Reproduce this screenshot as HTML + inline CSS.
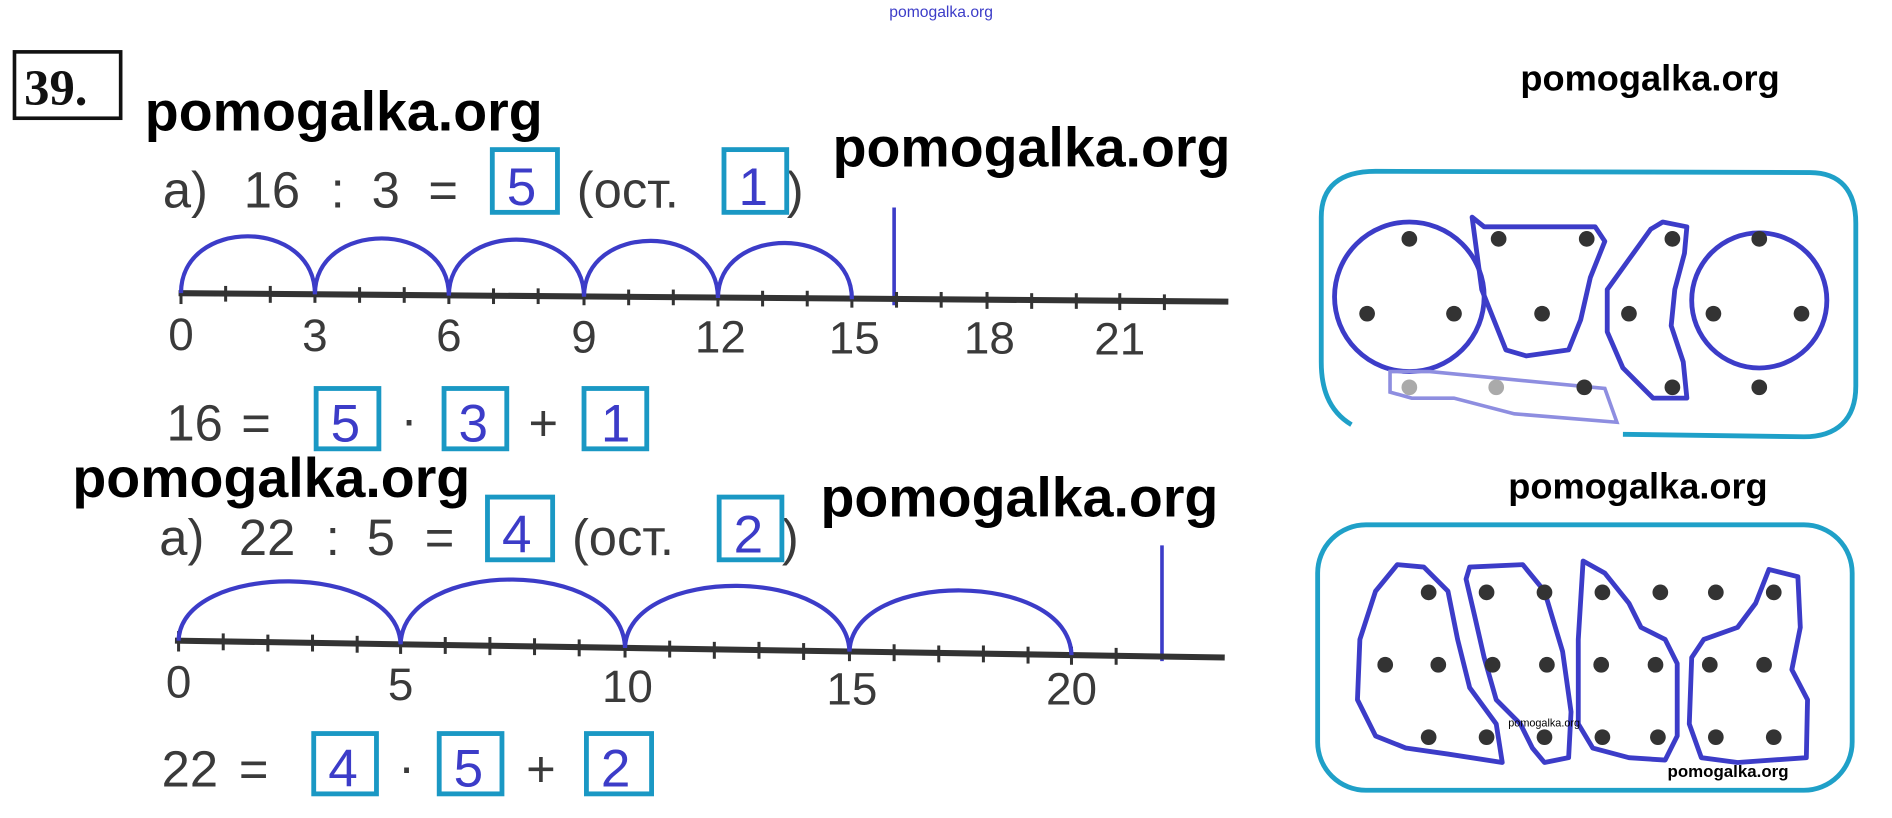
<!DOCTYPE html>
<html><head><meta charset="utf-8"><style>
html,body{margin:0;padding:0;background:#fff;width:1892px;height:818px;overflow:hidden}
svg{display:block}
.g{font-family:"Liberation Sans",sans-serif;fill:#3a3a3a}
.w{font-family:"Liberation Sans",sans-serif;font-weight:bold;fill:#000}
.b{font-family:"Liberation Sans",sans-serif;fill:#3c3cc8}
.bx{fill:none;stroke:#1a98c4;stroke-width:4}
.arc{fill:none;stroke:#3c3cc8;stroke-width:3.5}
.sh{fill:none;stroke:#3c3cc8;stroke-width:4;stroke-linejoin:round}
.d{fill:#333}
</style></head><body>
<svg width="1892" height="818" viewBox="0 0 1568 678" preserveAspectRatio="none">
<text x="737" y="14" class="b" font-size="13">pomogalka.org</text>
<rect x="12" y="43" width="88" height="55" fill="none" stroke="#111" stroke-width="3"/>
<text x="20" y="87" font-family="Liberation Serif,serif" font-weight="bold" font-size="42" fill="#111">39.</text>
<text x="120" y="108" class="w" font-size="46">pomogalka.org</text>
<text x="690" y="138" class="w" font-size="46">pomogalka.org</text>
<text x="1260" y="75" class="w" font-size="30">pomogalka.org</text>

<g class="g" font-size="42">
<text x="135" y="172">а)</text><text x="202" y="172">16</text><text x="274" y="172">:</text><text x="308" y="172">3</text><text x="355" y="172">=</text>
<text x="478" y="172">(ост.</text><text x="652" y="172">)</text>
</g>
<rect x="408" y="124" width="54" height="52" class="bx"/><text x="420" y="170" class="b" font-size="44">5</text>
<rect x="600" y="124" width="52" height="52" class="bx"/><text x="612" y="170" class="b" font-size="44">1</text>
<line x1="741" y1="172" x2="741" y2="253" stroke="#3c3cc8" stroke-width="3"/>
<line x1="148" y1="243" x2="1018" y2="250" stroke="#333" stroke-width="5"/>
<g stroke="#333" stroke-width="2.5">
<line x1="150" y1="236" x2="150" y2="252"/><line x1="187" y1="237" x2="187" y2="250"/><line x1="224" y1="237" x2="224" y2="251"/><line x1="261" y1="237" x2="261" y2="251"/><line x1="298" y1="238" x2="298" y2="251"/><line x1="335" y1="238" x2="335" y2="251"/><line x1="372" y1="238" x2="372" y2="252"/><line x1="409" y1="239" x2="409" y2="252"/><line x1="446" y1="239" x2="446" y2="252"/><line x1="484" y1="239" x2="484" y2="253"/><line x1="521" y1="240" x2="521" y2="253"/><line x1="558" y1="240" x2="558" y2="253"/><line x1="595" y1="240" x2="595" y2="254"/><line x1="632" y1="241" x2="632" y2="254"/><line x1="669" y1="241" x2="669" y2="254"/><line x1="706" y1="241" x2="706" y2="255"/><line x1="743" y1="242" x2="743" y2="255"/><line x1="780" y1="242" x2="780" y2="255"/><line x1="818" y1="242" x2="818" y2="256"/><line x1="855" y1="243" x2="855" y2="256"/><line x1="892" y1="243" x2="892" y2="256"/><line x1="928" y1="243" x2="928" y2="257"/><line x1="965" y1="244" x2="965" y2="257"/>
</g>
<path class="arc" d="M150 243 C150 180 261 180 261 244 C261 182 372 182 372 245 C372 183 484 183 484 246 C484 184 595 184 595 247 C595 186 706 186 706 248"/>
<g class="g" font-size="38" text-anchor="middle">
<text x="150" y="290">0</text><text x="261" y="291">3</text><text x="372" y="291">6</text><text x="484" y="292">9</text><text x="597" y="292">12</text><text x="708" y="293">15</text><text x="820" y="293">18</text><text x="928" y="294">21</text>
</g>
<text x="138" y="365" class="g" font-size="42">16</text><text x="200" y="365" class="g" font-size="42">=</text>
<rect x="262" y="322" width="52" height="50" class="bx"/><text x="274" y="366" class="b" font-size="44">5</text>
<text x="332" y="362" class="g" font-size="42">·</text>
<rect x="368" y="322" width="52" height="50" class="bx"/><text x="380" y="366" class="b" font-size="44">3</text>
<text x="438" y="365" class="g" font-size="42">+</text>
<rect x="484" y="322" width="52" height="50" class="bx"/><text x="498" y="366" class="b" font-size="44">1</text>

<text x="60" y="412" class="w" font-size="46">pomogalka.org</text>
<text x="680" y="428" class="w" font-size="46">pomogalka.org</text>
<text x="1250" y="413" class="w" font-size="30">pomogalka.org</text>

<g class="g" font-size="42">
<text x="132" y="460">а)</text><text x="198" y="460">22</text><text x="270" y="460">:</text><text x="304" y="460">5</text><text x="352" y="460">=</text>
<text x="474" y="460">(ост.</text><text x="648" y="460">)</text>
</g>
<rect x="404" y="412" width="54" height="52" class="bx"/><text x="416" y="458" class="b" font-size="44">4</text>
<rect x="596" y="412" width="52" height="52" class="bx"/><text x="608" y="458" class="b" font-size="44">2</text>
<line x1="963" y1="452" x2="963" y2="548" stroke="#3c3cc8" stroke-width="3"/>
<line x1="145" y1="531" x2="1015" y2="545" stroke="#333" stroke-width="5"/>
<g stroke="#333" stroke-width="2.5">
<line x1="148" y1="523" x2="148" y2="540"/><line x1="185" y1="525" x2="185" y2="539"/><line x1="222" y1="526" x2="222" y2="540"/><line x1="259" y1="526" x2="259" y2="540"/><line x1="296" y1="527" x2="296" y2="541"/><line x1="332" y1="527" x2="332" y2="542"/><line x1="369" y1="528" x2="369" y2="542"/><line x1="406" y1="528" x2="406" y2="543"/><line x1="443" y1="529" x2="443" y2="543"/><line x1="480" y1="530" x2="480" y2="544"/><line x1="518" y1="530" x2="518" y2="545"/><line x1="555" y1="531" x2="555" y2="545"/><line x1="592" y1="532" x2="592" y2="546"/><line x1="629" y1="532" x2="629" y2="546"/><line x1="666" y1="533" x2="666" y2="547"/><line x1="704" y1="533" x2="704" y2="548"/><line x1="741" y1="534" x2="741" y2="548"/><line x1="778" y1="535" x2="778" y2="549"/><line x1="815" y1="535" x2="815" y2="549"/><line x1="852" y1="536" x2="852" y2="550"/><line x1="888" y1="536" x2="888" y2="551"/><line x1="925" y1="537" x2="925" y2="551"/>
</g>
<path class="arc" d="M148 531 C150 465 330 465 332 534 C334 462 516 462 518 537 C520 468 702 468 704 540 C706 472 886 472 888 543"/>
<g class="g" font-size="38" text-anchor="middle">
<text x="148" y="578">0</text><text x="332" y="580">5</text><text x="520" y="582">10</text><text x="706" y="584">15</text><text x="888" y="584">20</text>
</g>
<text x="134" y="652" class="g" font-size="42">22</text><text x="198" y="652" class="g" font-size="42">=</text>
<rect x="260" y="608" width="52" height="50" class="bx"/><text x="272" y="652" class="b" font-size="44">4</text>
<text x="330" y="650" class="g" font-size="42">·</text>
<rect x="364" y="608" width="52" height="50" class="bx"/><text x="376" y="652" class="b" font-size="44">5</text>
<text x="436" y="652" class="g" font-size="42">+</text>
<rect x="486" y="608" width="54" height="50" class="bx"/><text x="498" y="652" class="b" font-size="44">2</text>

<path d="M1120 352 C1100 340 1095 320 1095 300 L1095 180 C1095 155 1110 142 1140 142 L1500 143 C1525 143 1538 158 1538 185 L1538 320 C1538 348 1522 362 1495 362 L1345 360" fill="none" stroke="#1fa0c8" stroke-width="4"/>
<circle cx="1168" cy="246" r="62" class="sh"/>
<circle cx="1458" cy="249" r="56" class="sh"/>
<path class="sh" d="M1220 180 L1230 188 L1322 188 L1330 200 L1318 230 L1310 265 L1300 290 L1265 295 L1248 290 L1228 240 Z"/>
<path class="sh" d="M1378 184 L1398 188 L1396 210 L1388 240 L1385 270 L1395 300 L1398 330 L1370 330 L1345 305 L1332 275 L1332 240 L1350 215 L1368 190 Z"/>
<path d="M1152 308 L1185 308 L1330 322 L1340 350 L1255 343 L1205 330 L1170 330 L1152 325 Z" fill="none" stroke="#8e8ee0" stroke-width="3"/>
<g class="d">
<circle cx="1168" cy="198" r="6.5"/><circle cx="1242" cy="198" r="6.5"/><circle cx="1315" cy="198" r="6.5"/><circle cx="1386" cy="198" r="6.5"/><circle cx="1458" cy="198" r="6.5"/>
<circle cx="1133" cy="260" r="6.5"/><circle cx="1205" cy="260" r="6.5"/><circle cx="1278" cy="260" r="6.5"/><circle cx="1350" cy="260" r="6.5"/><circle cx="1420" cy="260" r="6.5"/><circle cx="1493" cy="260" r="6.5"/>
<circle cx="1168" cy="321" r="6.5" fill="#aaa"/><circle cx="1240" cy="321" r="6.5" fill="#aaa"/><circle cx="1313" cy="321" r="6.5"/><circle cx="1386" cy="321" r="6.5"/><circle cx="1458" cy="321" r="6.5"/>
</g>
<rect x="1092" y="435" width="443" height="220" rx="40" fill="none" stroke="#1fa0c8" stroke-width="4"/>
<path class="sh" d="M1158 468 L1180 470 L1200 490 L1208 530 L1218 570 L1240 600 L1245 632 L1200 625 L1165 620 L1140 610 L1125 580 L1127 530 L1140 490 Z"/>
<path class="sh" d="M1218 470 L1262 468 L1280 490 L1295 540 L1302 590 L1300 628 L1280 632 L1270 620 L1260 600 L1240 580 L1230 545 L1222 510 L1215 480 Z"/>
<path class="sh" d="M1312 465 L1330 475 L1350 500 L1360 520 L1380 530 L1390 550 L1390 610 L1380 630 L1350 628 L1320 620 L1308 600 L1308 530 Z"/>
<path class="sh" d="M1466 472 L1490 478 L1492 520 L1485 555 L1498 580 L1497 628 L1440 632 L1410 628 L1400 600 L1402 545 L1412 530 L1440 520 L1455 500 Z"/>
<g class="d">
<circle cx="1184" cy="491" r="6.5"/><circle cx="1232" cy="491" r="6.5"/><circle cx="1280" cy="491" r="6.5"/><circle cx="1328" cy="491" r="6.5"/><circle cx="1376" cy="491" r="6.5"/><circle cx="1422" cy="491" r="6.5"/><circle cx="1470" cy="491" r="6.5"/>
<circle cx="1148" cy="551" r="6.5"/><circle cx="1192" cy="551" r="6.5"/><circle cx="1237" cy="551" r="6.5"/><circle cx="1282" cy="551" r="6.5"/><circle cx="1327" cy="551" r="6.5"/><circle cx="1372" cy="551" r="6.5"/><circle cx="1417" cy="551" r="6.5"/><circle cx="1462" cy="551" r="6.5"/>
<circle cx="1184" cy="611" r="6.5"/><circle cx="1232" cy="611" r="6.5"/><circle cx="1280" cy="611" r="6.5"/><circle cx="1328" cy="611" r="6.5"/><circle cx="1374" cy="611" r="6.5"/><circle cx="1422" cy="611" r="6.5"/><circle cx="1470" cy="611" r="6.5"/>
</g>
<text x="1250" y="602" font-family="Liberation Sans,sans-serif" font-size="9" fill="#000">pomogalka.org</text>
<text x="1382" y="644" class="w" font-size="14">pomogalka.org</text>
</svg>
</body></html>
